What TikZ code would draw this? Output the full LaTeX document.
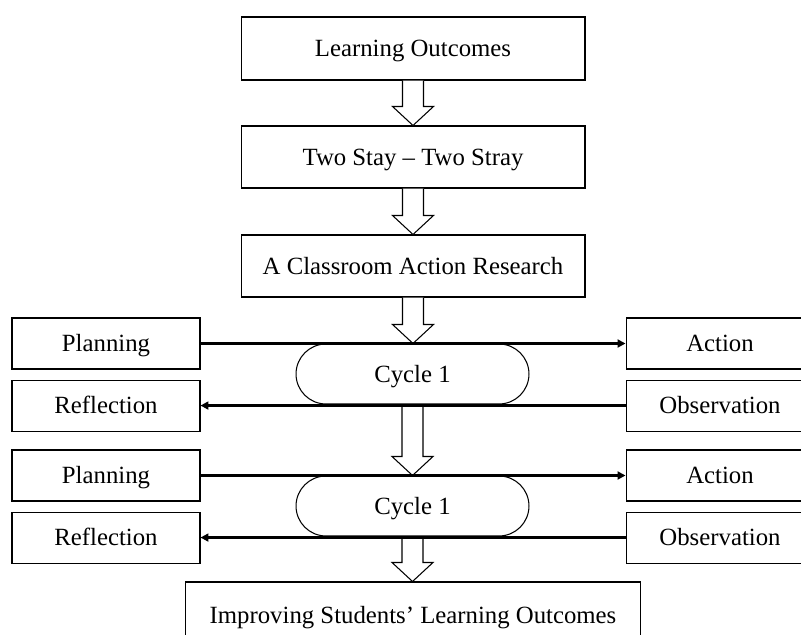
\documentclass[tikz,border=0pt]{standalone}
\usepackage{fontspec}
\setmainfont{Liberation Serif}
\usetikzlibrary{positioning}
\usetikzlibrary{calc,arrows.meta}

\newcommand\blockarr[2]{%
  \draw[hollow] let \p1=(#1.south), \p2=(#2.north) in
    (\x1-0.21cm,\y1) -- (\x1-0.21cm,\y2+0.38cm) -- (\x1-0.41cm,\y2+0.38cm)
    -- (\x1,\y2) -- (\x1+0.41cm,\y2+0.38cm) -- (\x1+0.21cm,\y2+0.38cm)
    -- (\x1+0.21cm,\y1);}

\begin{document}
\begin{tikzpicture}[x=0.02cm, y=-0.02cm,
txt/.style={font=\fontsize{14.1}{17}\selectfont, inner sep=0pt, text height=9.3pt, text depth=0pt},
box/.style={txt, draw, line width=0.6pt, minimum width=6.88cm, minimum height=1.24cm},
side/.style={box, minimum width=3.76cm, minimum height=1.02cm, node distance=0.2cm},
cycle/.style={box, minimum width=4.66cm, minimum height=1.2cm, rounded corners=0.6cm},
hollow/.style={draw, fill=white, line width=0.6pt, line join=miter},
flow/.style={line width=1.2pt, -{Triangle[length=4.5pt,width=4.5pt]}}]
\useasboundingbox (0,0) rectangle (801,635);
\clip (0,0) rectangle (801,635);

\node[box, minimum height=1.26cm] (Lo) at (413,48.5) {Learning Outcomes};
\node[box] (Tw) at (413,157) {Two Stay -- Two Stray};
\node[box] (Car) at (413,266) {A Classroom Action Research};

% first cycle
\node[side] (Pl1) at (106,343.5) {Planning};
\node[side] (Ac1) at (720,343.5) {Action};
\node[side] (Re1) [below=of Pl1] {Reflection};
\node[side] (Ob1) [below=of Ac1] {Observation};
\node[cycle] (Cy1) at (412.5,374) {Cycle 1};

% second cycle
\node[side] (Pl2) at (106,475.5) {Planning};
\node[side] (Ac2) at (720,475.5) {Action};
\node[side] (Re2) [below=of Pl2] {Reflection};
\node[side] (Ob2) [below=of Ac2] {Observation};
\node[cycle] (Cy2) at (412.5,506) {Cycle 1};

\node[box, minimum width=9.12cm, minimum height=1.32cm] (Im) at (413,615) {Improving Students' Learning Outcomes};

\blockarr{Lo}{Tw}
\blockarr{Tw}{Car}
\blockarr{Car}{Cy1}
\blockarr{Cy1}{Cy2}
\blockarr{Cy2}{Im}

\draw[flow] (Pl1) -- (Ac1);
\draw[flow] (Ob1) -- (Re1);
\draw[flow] (Pl2) -- (Ac2);
\draw[flow] (Ob2) -- (Re2);
\end{tikzpicture}
\end{document}
